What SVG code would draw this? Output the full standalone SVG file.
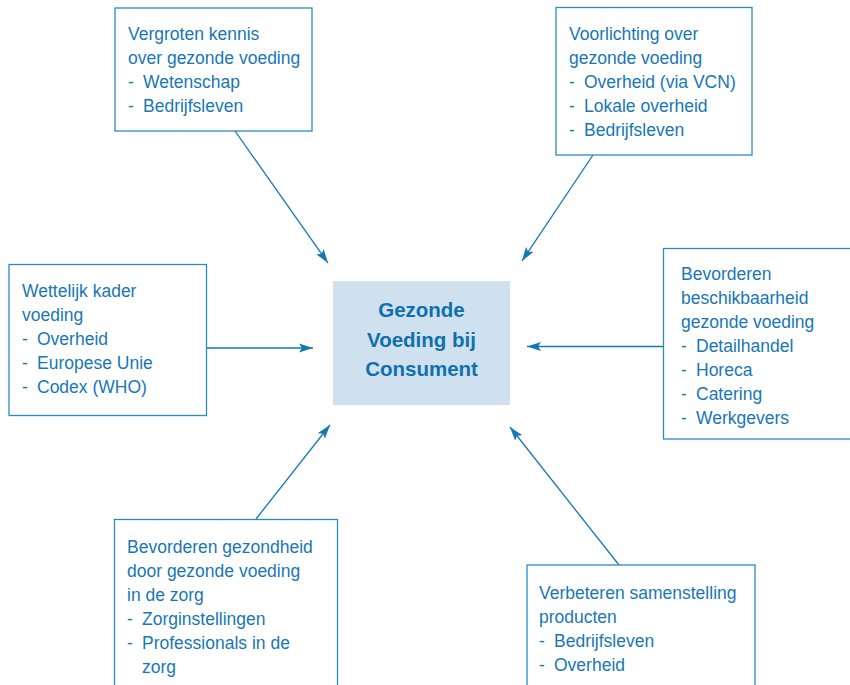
<svg xmlns="http://www.w3.org/2000/svg" width="850" height="685" viewBox="0 0 850 685">
<defs>
<style>
.box{fill:#ffffff;stroke:#2d8ac4;stroke-width:1.3}
.center{fill:#cfe0ee;stroke:none}
.t{font-family:"Liberation Sans",Arial,sans-serif;font-size:17.5px;fill:#1877b6}
.c{font-family:"Liberation Sans",Arial,sans-serif;font-size:20.5px;font-weight:bold;fill:#0f70ae;text-anchor:middle}
.conn{stroke:#1577b5;stroke-width:1.3;fill:none;marker-end:url(#ah)}
</style>
<marker id="ah" viewBox="0 -5 14 10" refX="14" refY="0" markerWidth="14" markerHeight="10" markerUnits="userSpaceOnUse" orient="auto">
<path d="M0,-4.5 L14,0 L0,4.5 L3,0 z" fill="#1577b5"/>
</marker>
</defs>
<rect width="850" height="685" fill="#ffffff"/>
<g id="connectors">
<line class="conn" x1="235" y1="131" x2="328" y2="263"/>
<line class="conn" x1="593" y1="155" x2="522" y2="261"/>
<line class="conn" x1="207" y1="348" x2="313" y2="348"/>
<line class="conn" x1="663" y1="346.5" x2="527" y2="346.5"/>
<line class="conn" x1="256" y1="519" x2="330" y2="425"/>
<line class="conn" x1="619" y1="565" x2="510" y2="427"/>
</g>
<g id="center">
<rect class="center" x="333" y="281" width="177" height="124"/>
<text class="c" x="421.5" y="317">Gezonde</text>
<text class="c" x="421.5" y="347">Voeding bij</text>
<text class="c" x="421.5" y="376">Consument</text>
</g>
<g id="kennis">
<rect class="box" x="115" y="8" width="197" height="123"/>
<text class="t" x="128" y="40">Vergroten kennis</text>
<text class="t" x="128" y="64">over gezonde voeding</text>
<text class="t" x="128" y="88">-</text><text class="t" x="143" y="88">Wetenschap</text>
<text class="t" x="128" y="112">-</text><text class="t" x="143" y="112">Bedrijfsleven</text>
</g>
<g id="voorlichting">
<rect class="box" x="556" y="7.5" width="196" height="147.5"/>
<text class="t" x="569" y="40">Voorlichting over</text>
<text class="t" x="569" y="64">gezonde voeding</text>
<text class="t" x="569" y="88">-</text><text class="t" x="584" y="88">Overheid (via VCN)</text>
<text class="t" x="569" y="112">-</text><text class="t" x="584" y="112">Lokale overheid</text>
<text class="t" x="569" y="136">-</text><text class="t" x="584" y="136">Bedrijfsleven</text>
</g>
<g id="wettelijk">
<rect class="box" x="9" y="264.5" width="197.5" height="151"/>
<text class="t" x="22" y="297">Wettelijk kader</text>
<text class="t" x="22" y="321">voeding</text>
<text class="t" x="22" y="345">-</text><text class="t" x="37" y="345">Overheid</text>
<text class="t" x="22" y="369">-</text><text class="t" x="37" y="369">Europese Unie</text>
<text class="t" x="22" y="393">-</text><text class="t" x="37" y="393">Codex (WHO)</text>
</g>
<g id="beschikbaarheid">
<rect class="box" x="663.5" y="248.5" width="200" height="190.5"/>
<text class="t" x="681" y="280">Bevorderen</text>
<text class="t" x="681" y="304">beschikbaarheid</text>
<text class="t" x="681" y="328">gezonde voeding</text>
<text class="t" x="681" y="352">-</text><text class="t" x="696" y="352">Detailhandel</text>
<text class="t" x="681" y="376">-</text><text class="t" x="696" y="376">Horeca</text>
<text class="t" x="681" y="400">-</text><text class="t" x="696" y="400">Catering</text>
<text class="t" x="681" y="424">-</text><text class="t" x="696" y="424">Werkgevers</text>
</g>
<g id="gezondheid">
<rect class="box" x="114.5" y="519.5" width="223" height="200"/>
<text class="t" x="127" y="553">Bevorderen gezondheid</text>
<text class="t" x="127" y="577">door gezonde voeding</text>
<text class="t" x="127" y="601">in de zorg</text>
<text class="t" x="127" y="625">-</text><text class="t" x="142" y="625">Zorginstellingen</text>
<text class="t" x="127" y="649">-</text><text class="t" x="142" y="649">Professionals in de</text>
<text class="t" x="142" y="673">zorg</text>
</g>
<g id="samenstelling">
<rect class="box" x="527" y="565" width="228" height="160"/>
<text class="t" x="539" y="599">Verbeteren samenstelling</text>
<text class="t" x="539" y="623">producten</text>
<text class="t" x="539" y="647">-</text><text class="t" x="554" y="647">Bedrijfsleven</text>
<text class="t" x="539" y="671">-</text><text class="t" x="554" y="671">Overheid</text>
</g>
</svg>
